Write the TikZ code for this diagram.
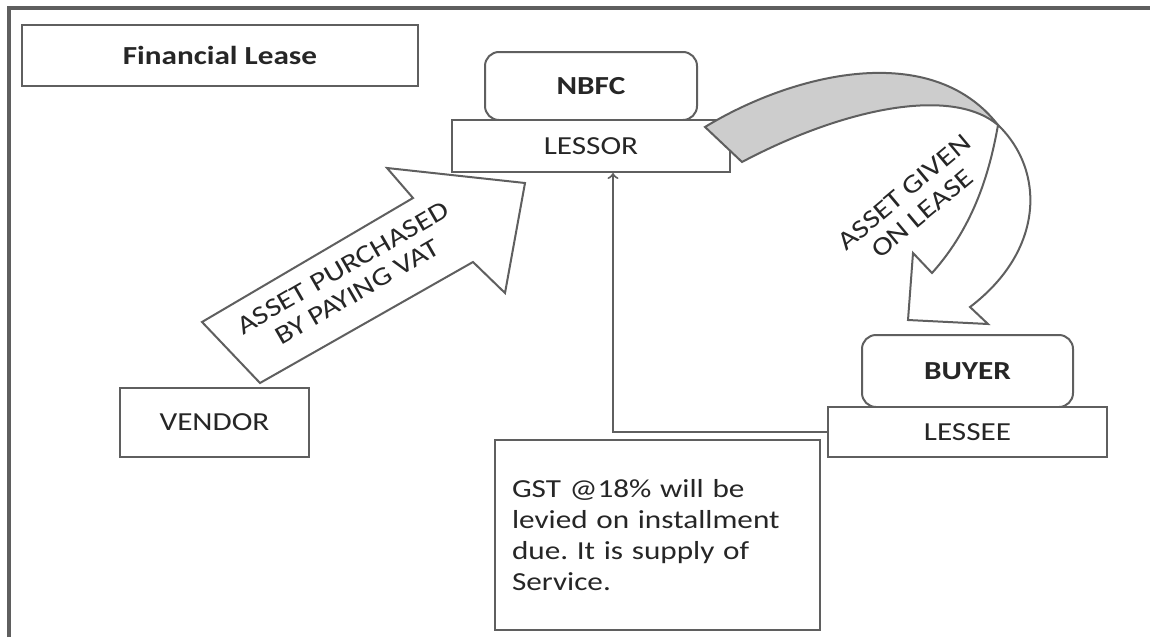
\documentclass[tikz,border=0pt]{standalone}
\usepackage{fontspec}
\setmainfont{Carlito}[FakeStretch=1.2]
\usepackage{tikz}
\definecolor{liniengrau}{RGB}{95,95,95}
\definecolor{pfeilgrau}{RGB}{205,205,205}
\usetikzlibrary{arrows}
\frenchspacing

\begin{document}
\begin{tikzpicture}[x=0.5pt, y=-0.5pt,
			>=to,   %Pfeilspitze des Verbinders
			box/.style={draw=liniengrau, line width=1pt, fill=white, inner sep=0pt, text=black!85},
			rbox/.style={box, rounded corners=7pt},
			pfeil/.style={draw=liniengrau, line width=1pt, line join=miter},
			verbinder/.style={liniengrau, line width=1pt, ->},
			font=\fontsize{13}{15.6}\selectfont]
			\useasboundingbox (0,0) rectangle (1150,637);
			%Rahmen zeichnen
			\draw[liniengrau, line width=1.6pt] (9,637) -- (9,8) -- (1150,8);
			%Titel
			\node[box, minimum width=198pt, minimum height=30.5pt, font=\fontsize{13}{15}\selectfont\bfseries] (titel) at (220,55) {Financial Lease};
			% Kaestchen
			\node[rbox, minimum width=106pt, minimum height=34pt, font=\fontsize{13}{15}\selectfont\bfseries] (nbfc) at (591,86) {NBFC};
			\node[box, minimum width=139pt, minimum height=26pt] (lessor) at (591,146) {LESSOR};
			\node[rbox, minimum width=105.5pt, minimum height=36pt, font=\fontsize{13}{15}\selectfont\bfseries] (buyer) at (967.5,371) {BUYER};
			\node[box, minimum width=139.5pt, minimum height=25pt] (lessee) at (967.5,432) {LESSEE};
			\node[box, minimum width=94.5pt, minimum height=34.5pt] (vendor) at (214.5,422.5) {VENDOR};
			\node[box, minimum width=162.5pt, minimum height=95pt, text width=145.5pt, align=left] (gst) at (657.5,535)
				{GST @18\% will be\\levied on installment\\due. It is supply of\\Service.};
			% Verbinder Leasingraten
			\draw[verbinder] (lessee.west) -| ([xshift=11pt]lessor.south);
			%Blockpfeil Kauf
			\draw[pfeil, fill=white] (202,322) -- (413,198) -- (387,168) -- (525,183) -- (505,293) -- (473,262) -- (260,383) -- cycle;
			\node[rotate=30, align=center, text=black!85, font=\fontsize{13}{14}\selectfont] (kauf) at (350,280) {ASSET PURCHASED\\BY PAYING VAT};
			%gebogener Pfeil Leasing
			\draw[pfeil, fill=pfeilgrau] (705,127) .. controls (790,75) and (930,38) .. (998,125) .. controls (950,85) and (840,110) .. (742,162) -- cycle;
			\draw[pfeil, fill=white] (998,125) .. controls (1045,170) and (1045,250) .. (970,307) -- (988,324) -- (908,320) -- (913,253) -- (932,273) .. controls (975,225) and (990,170) .. (998,125) -- cycle;
			\node[rotate=40, align=center, text=black!85, font=\fontsize{13}{14}\selectfont] (leasing) at (913,203) {ASSET GIVEN\\ON LEASE};
		\end{tikzpicture}
\end{document}
